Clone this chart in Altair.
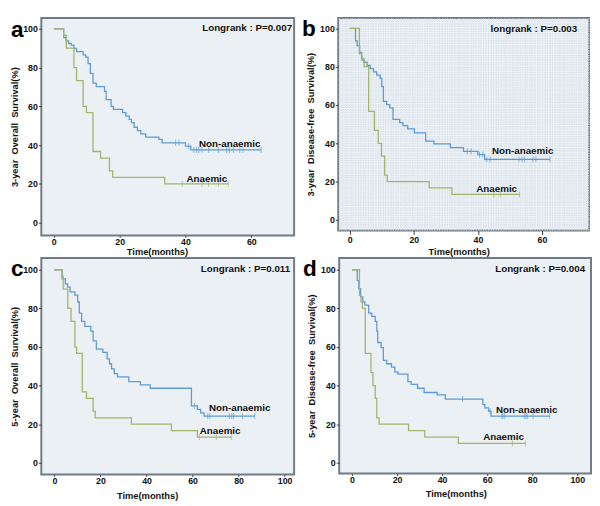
import altair as alt
import pandas as pd

# ---------------- data ----------------
# Panel a: 3-year overall survival
a_non_t = [0, 3.0, 3.7, 4.5, 5.3, 6.1, 6.9, 8.9, 9.7, 10.4, 11.1, 11.9, 12.9, 15.4, 15.9, 17.4, 18.1,
           20.9, 21.9, 22.9, 23.6, 24.4, 25.4, 26.4, 27.9, 31.9, 32.9, 40.0, 41.6]
a_non_s = [100, 95.5, 93.8, 92.4, 91.6, 89.9, 88.2, 86.5, 85.4, 82.0, 77.0, 72.0, 70.2, 67.7, 63.5, 60.0, 58.4,
           56.7, 55.0, 53.3, 51.6, 49.2, 47.5, 45.8, 44.1, 42.9, 41.2, 39.5, 37.5]
a_non_end = 63
a_non_cens = [37.0, 38.0, 41.0, 42.5, 43.3, 44.0, 45.0, 47.0, 50.0, 52.5, 53.3, 54.5, 56.5, 57.5, 63]
a_ana_t = [0, 3.0, 3.8, 6.1, 6.9, 8.9, 9.9, 11.9, 14.2, 16.9, 17.9, 33.7]
a_ana_s = [100, 96.7, 90.0, 80.0, 73.3, 60.0, 56.7, 36.7, 33.3, 26.7, 23.3, 20.0]
a_ana_end = 53
a_ana_cens = [39, 45, 47, 50, 53]

# Panel b: 3-year disease-free survival
b_non_t = [0, 1.8, 2.3, 3.1, 3.7, 4.4, 5.4, 6.4, 7.4, 8.4, 9.5, 10.0, 10.5, 11.5, 12.5, 13.5, 15.6, 16.6,
           18.1, 20.2, 23.7, 26.3, 31.4, 35.5, 40.0, 42.1]
b_non_s = [100, 93.5, 91.0, 87.5, 84.1, 82.4, 80.7, 79.0, 77.3, 75.6, 73.9, 69.6, 61.9, 60.2, 58.5, 52.5, 50.8, 49.2,
           47.5, 45.4, 41.1, 39.7, 37.7, 35.8, 34.1, 31.6]
b_non_end = 62.5
b_non_cens = [36.7, 37.9, 40.5, 41.5, 42.8, 43.8, 52.8, 53.8, 54.5, 57.2, 58.1, 62.5]
b_ana_t = [0, 3.0, 3.8, 4.5, 5.9, 7.7, 8.9, 9.9, 10.9, 11.7, 24.8, 31.9]
b_ana_s = [100, 86.7, 83.3, 80.0, 56.7, 46.7, 40.0, 33.3, 23.3, 20.0, 16.7, 13.3]
b_ana_end = 53
b_ana_cens = [45, 47, 53]

# Panel c: 5-year overall survival
c_non_t = [0, 3.3, 4.7, 5.7, 6.8, 8.9, 10.1, 10.8, 11.8, 13.2, 15.8, 16.8, 18.2, 21.0, 22.9, 23.9, 24.8,
           26.0, 27.4, 32.3, 37.3, 41.6, 59.5, 62.1, 63.5, 65.0]
c_non_s = [100, 95.3, 92.7, 91.0, 88.5, 86.8, 83.4, 77.5, 73.2, 70.7, 68.2, 63.1, 58.9, 57.2, 53.8, 51.3, 48.7,
           46.2, 44.5, 42.0, 40.3, 38.6, 29.5, 27.6, 25.9, 24.2]
c_non_end = 87
c_non_cens = [60.8, 66.6, 67.5, 76.0, 77.0, 77.8, 81.7, 87]
c_ana_t = [0, 3.3, 3.8, 5.8, 7.2, 8.9, 9.6, 12.1, 13.9, 16.8, 17.7, 33.4, 50.8, 62.1]
c_ana_s = [100, 96.7, 90.0, 80.0, 73.3, 60.0, 56.7, 36.7, 33.3, 26.7, 23.3, 20.0, 16.7, 13.3]
c_ana_end = 77
c_ana_cens = [63, 70.3, 77]

# Panel d: 5-year disease-free survival
d_non_t = [0, 2.3, 3.0, 3.8, 4.8, 5.7, 7.4, 8.8, 10.3, 11.0, 11.4, 12.9, 13.9, 15.4, 17.5, 19.0, 20.4,
           24.8, 26.2, 29.1, 32.0, 37.8, 41.4, 58.1, 59.0, 60.6, 61.7]
d_non_s = [100, 94.4, 90.2, 86.0, 83.4, 81.7, 77.5, 75.8, 73.3, 68.2, 62.3, 59.7, 53.0, 51.3, 49.6, 47.0, 45.9,
           42.0, 40.6, 38.6, 36.4, 35.2, 33.0, 30.1, 28.4, 26.7, 24.2]
d_non_end = 87.8
d_non_cens = [49.1, 61.3, 66.5, 67.0, 67.8, 76.5, 77.2, 77.8, 80.4, 87.8]
d_ana_t = [0, 3.3, 4.0, 4.6, 5.9, 8.4, 9.3, 10.3, 11.0, 12.0, 25.1, 32.3, 47.2]
d_ana_s = [100, 86.7, 83.3, 80.0, 56.7, 46.7, 40.0, 33.3, 23.3, 20.0, 16.7, 13.3, 10.0]
d_ana_end = 77
d_ana_cens = [71.2, 77]

groups = ["Non-anaemic", "Anaemic"]
letters = ["a", "b", "c", "d"]
pvalues = ["Longrank : P=0.007", "longrank : P=0.003", "Longrank : P=0.011", "Longrank : P=0.004"]
ytitles = ["3-year\u00a0\u00a0Overall\u00a0\u00a0Survival(%)",
           "3-year\u00a0\u00a0Disease-free\u00a0\u00a0Survival(%)",
           "5-year\u00a0\u00a0Overall\u00a0\u00a0Survival(%)",
           "5-year\u00a0\u00a0Disease-free\u00a0\u00a0Survival(%)"]
xticks_3y = [0, 20, 40, 60]
xticks_5y = [0, 20, 40, 60, 80, 100]
yticks = [0, 20, 40, 60, 80, 100]

# label anchor positions (time, survival)
label_pos = {
    "a": {"Non-anaemic": (44.1, 39.0), "Anaemic": (40.3, 21.2), "p": (72.4, 99.0)},
    "b": {"Non-anaemic": (44.4, 34.3), "Anaemic": (39.5, 14.8), "p": (71.0, 98.3)},
    "c": {"Non-anaemic": (67.1, 26.9), "Anaemic": (63.1, 14.7), "p": (102.4, 99.0)},
    "d": {"Non-anaemic": (63.9, 25.9), "Anaemic": (58.2, 11.7), "p": (103.5, 99.0)},
}

# ---------------- styling ----------------
FONT = "Liberation Sans"
BLUE = "#5f9bd5"
GREEN = "#a3b56b"
FILL = "#eaf0f4"
FILL_B = "#ecf1f5"
FRAME = "#6f7b86"
INK = "#111111"

# fine dotted texture of panel b (pure styling: dotted grid every ~2.5 px)
TEX_X = [round(k * 0.8, 2) for k in range(-4, 94)]
TEX_Y = [round(k * 1.25, 2) for k in range(-4, 85)]

layout = {
    "a": dict(w=258, h=222, xdom=[-3.8, 73.0], ydom=[-6.6, 105.6], xt=xticks_3y, lx=-31, ly=19,
              ts=2, lp=0, tp=0, tx=118, ytp=3, fill=FILL, tex=False),
    "b": dict(w=256, h=217, xdom=[-3.6, 74.7], ydom=[-5.6, 105.5], xt=xticks_3y, lx=-37, ly=18,
              ts=4, lp=1, tp=2, tx=123, ytp=4, fill=FILL_B, tex=True),
    "c": dict(w=258, h=221, xdom=[-5.7, 104.1], ydom=[-6.1, 106.1], xt=xticks_5y, lx=-31, ly=18,
              ts=2, lp=0, tp=5, tx=108, ytp=3, fill=FILL, tex=False),
    "d": dict(w=257, h=220, xdom=[-5.7, 106.1], ydom=[-5.6, 106.1], xt=xticks_5y, lx=-37, ly=18,
              ts=2, lp=0, tp=4, tx=119, ytp=4, fill=FILL, tex=False),
}

series = {
    "a": [(a_non_t, a_non_s, a_non_end, a_non_cens), (a_ana_t, a_ana_s, a_ana_end, a_ana_cens)],
    "b": [(b_non_t, b_non_s, b_non_end, b_non_cens), (b_ana_t, b_ana_s, b_ana_end, b_ana_cens)],
    "c": [(c_non_t, c_non_s, c_non_end, c_non_cens), (c_ana_t, c_ana_s, c_ana_end, c_ana_cens)],
    "d": [(d_non_t, d_non_s, d_non_end, d_non_cens), (d_ana_t, d_ana_s, d_ana_end, d_ana_cens)],
}

MAJOR = "datum.value % 20 === 0"


def step_at(times, surv, t):
    s = surv[0]
    for ti, si in zip(times, surv):
        if ti <= t:
            s = si
    return s


def make_axis(values, title, tex, **kw):
    common = dict(title=title, domain=False, tickColor="#444444",
                  labelFont=FONT, labelFontSize=9, labelFontWeight="bold", labelColor=INK,
                  titleFont=FONT, titleFontSize=9.5, titleFontWeight="bold", titleColor=INK,
                  labelFlush=False, labelOverlap=False)
    common.update(kw)
    if tex:
        return alt.Axis(values=values, grid=True, gridColor="#d6dee6", gridDash=[1, 1.5], gridWidth=1,
                        labelExpr=MAJOR + " ? datum.label : ''",
                        tickOpacity={"condition": {"test": MAJOR, "value": 1}, "value": 0},
                        **common)
    return alt.Axis(values=values, grid=False, **common)


def panel(idx):
    key = letters[idx]
    L = layout[key]
    rows, cens = [], []
    for g, (times, surv, end, cts) in zip(groups, series[key]):
        for ti, si in zip(times, surv):
            rows.append({"t": ti, "s": si, "g": g})
        rows.append({"t": end, "s": surv[-1], "g": g})
        for c in cts:
            cens.append({"t": c, "s": step_at(times, surv, c), "g": g})
    df = pd.DataFrame(rows)
    cdf = pd.DataFrame(cens)
    lp = label_pos[key]
    tdf = pd.DataFrame([{"t": lp[g][0], "s": lp[g][1], "txt": g} for g in groups])
    pdf = pd.DataFrame([{"t": lp["p"][0], "s": lp["p"][1], "txt": pvalues[idx]}])
    letdf = pd.DataFrame([{"txt": key}])

    xs = alt.Scale(domain=L["xdom"], nice=False, zero=False)
    ys = alt.Scale(domain=L["ydom"], nice=False, zero=False)
    cs = alt.Scale(domain=groups, range=[BLUE, GREEN])

    xaxis = make_axis(TEX_X if L["tex"] else L["xt"], "Time(months)", L["tex"],
                      tickSize=L["ts"], labelPadding=L["lp"], titlePadding=L["tp"], titleX=L["tx"])
    yaxis = make_axis(TEX_Y if L["tex"] else yticks, ytitles[idx], L["tex"],
                      tickSize=3, labelPadding=1, titlePadding=L["ytp"])
    X = alt.X("t:Q", scale=xs, axis=xaxis)
    Y = alt.Y("s:Q", scale=ys, axis=yaxis)

    lines = alt.Chart(df).mark_line(interpolate="step-after", strokeWidth=1.3).encode(
        x=X, y=Y,
        color=alt.Color("g:N", scale=cs, legend=None),
        detail="g:N",
    )
    ticks = alt.Chart(cdf).mark_tick(orient="vertical", size=6, thickness=1).encode(
        x=X, y=Y,
        color=alt.Color("g:N", scale=cs, legend=None),
    )
    labels = alt.Chart(tdf).mark_text(align="left", baseline="alphabetic", font=FONT,
                                      fontSize=10, fontWeight="bold", color=INK).encode(
        x=X, y=Y, text="txt:N",
    )
    ptext = alt.Chart(pdf).mark_text(align="right", baseline="alphabetic", font=FONT,
                                     fontSize=10, fontWeight="bold", color=INK).encode(
        x=X, y=Y, text="txt:N",
    )
    letter = alt.Chart(letdf).mark_text(align="left", baseline="alphabetic", font=FONT,
                                        fontSize=23, fontWeight="bold", color="#000000").encode(
        x=alt.value(L["lx"]), y=alt.value(L["ly"]), text="txt:N",
    )
    return alt.layer(lines, ticks, labels, ptext, letter).properties(
        width=L["w"], height=L["h"],
        view=alt.ViewBackground(fill=L["fill"], stroke=FRAME, strokeWidth=2),
    )


row1 = alt.hconcat(panel(0), panel(1), spacing=6)
row2 = alt.hconcat(panel(2), panel(3), spacing=7)
chart = alt.vconcat(row1, row2, spacing=0).properties(padding=0).configure_view(
    stroke=FRAME, strokeWidth=2
).configure(background="white")

chart.save("out.html", embed_options={"renderer": "svg", "actions": False})
